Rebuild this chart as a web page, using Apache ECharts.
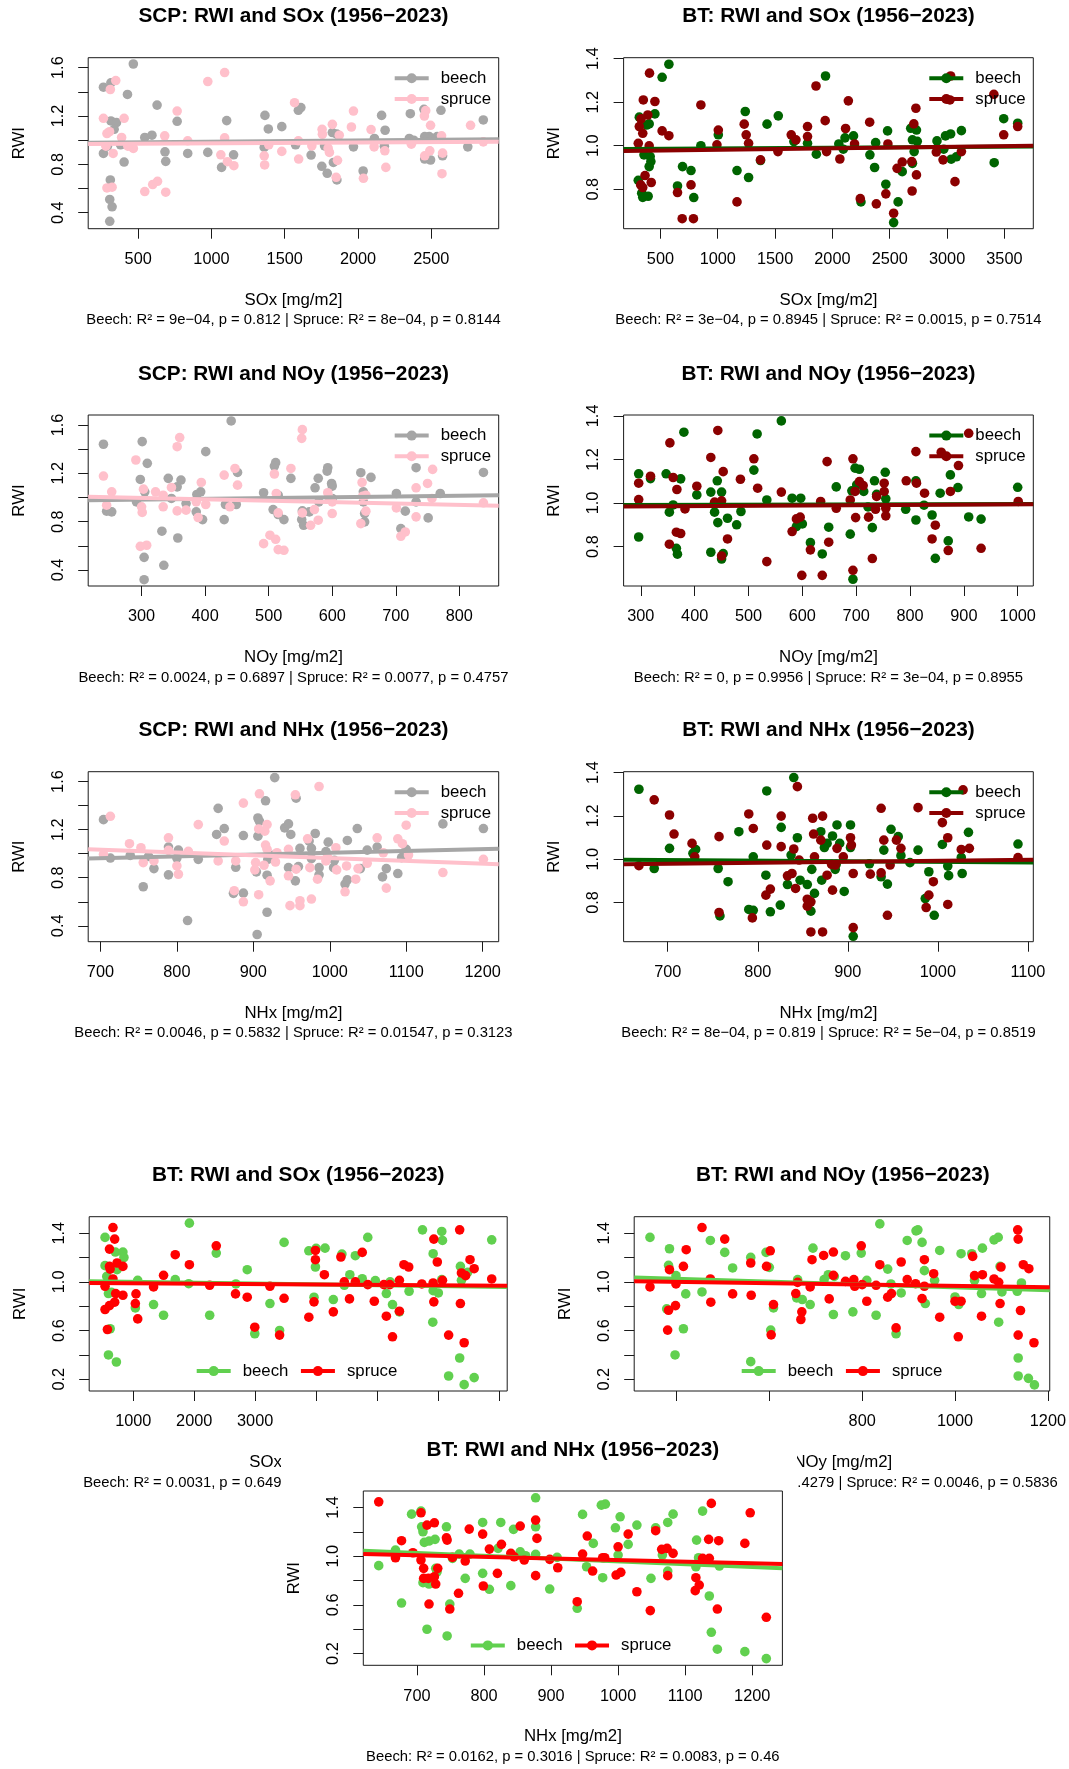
<!DOCTYPE html>
<html>
<head>
<meta charset="utf-8">
<script src="https://cdn.jsdelivr.net/npm/echarts@6/dist/echarts.min.js"></script>
<style>
  html, body { margin: 0; padding: 0; background: #fff; }
  #main { position: absolute; left: 0; top: 0; width: 1069px; height: 1769px; }
  #inset { position: absolute; left: 281px; top: 1408px; width: 516px; height: 361px; background: #fff; }
</style>
</head>
<body>
<div id="main"></div>
<div id="inset"></div>
<script>
// ---------- RWI vs deposition, [deposition, RWI] pairs ----------
const scpSoxBeech = [[467,1.63],[263,1.438],[314,1.474],[427,1.378],[629,1.29],[314,1.159],[352,1.145],[766,1.156],[1104,1.162],[1365,1.205],[1388,1.093],[1480,1.112],[1593,1.247],[1825,1.063],[1855,1.05],[2161,1.205],[2185,1.082],[2357,1.219],[2450,1.255],[2566,1.247],[2855,1.167],[2350,1.014],[2486,1.03],[2455,1.03],[2112,1.014],[380,0.962],[404,0.819],[545,1.022],[594,1.041],[683,0.904],[688,0.825],[838,0.89],[975,0.899],[1069,0.775],[1151,0.879],[1360,0.94],[1574,0.962],[1680,0.877],[1753,0.784],[1790,0.726],[1832,0.816],[1856,0.671],[1969,0.945],[2035,0.745],[2749,0.945],[2455,0.844],[2495,0.836],[2577,0.871],[263,0.89],[310,0.671],[306,0.51],[322,0.449],[306,0.329],[336,1.09],[290,0.95],[1772,0.953],[2180,0.95],[1610,1.27],[2380,1.0],[2540,1.03]];
const scpSoxSpruce = [[1090,1.559],[975,1.485],[347,1.493],[310,1.419],[263,1.181],[404,1.181],[766,1.241],[1567,1.31],[1969,1.241],[2462,1.244],[2453,1.2],[2768,1.123],[2495,1.123],[1955,1.109],[2089,1.088],[1755,1.09],[1757,1.049],[1825,1.131],[1872,1.041],[287,1.055],[305,1.07],[681,1.036],[387,1.022],[838,0.995],[1090,1.019],[1593,0.995],[1391,0.962],[467,0.932],[1685,0.953],[2110,0.945],[2183,0.912],[2364,0.967],[2570,1.036],[2855,0.986],[1805,0.899],[280,0.95],[329,0.89],[1064,0.879],[1109,0.822],[1153,0.789],[1360,0.871],[1363,0.795],[1480,0.907],[1595,0.844],[1796,0.934],[1860,0.833],[1851,0.693],[2037,0.685],[2190,0.775],[2455,0.871],[2490,0.912],[2577,0.893],[2573,0.723],[287,0.605],[322,0.611],[545,0.575],[599,0.633],[632,0.66],[688,0.57],[430,0.95]];

const btSoxBeech = [[574,1.374],[515,1.314],[1940,1.32],[316,1.131],[402,1.1],[452,1.146],[1240,1.157],[1528,1.137],[1430,1.099],[1005,1.05],[853,1.0],[1664,1.019],[1783,1.011],[1860,0.961],[2056,1.008],[2110,1.036],[2184,1.045],[2095,0.984],[2327,0.958],[2377,1.014],[2368,0.9],[2481,1.068],[2466,0.823],[2573,0.742],[2534,0.647],[2609,0.881],[2683,1.08],[2733,1.072],[2698,1.027],[2713,0.973],[2698,0.919],[2912,1.022],[2971,0.984],[2986,1.045],[3031,1.054],[3036,0.938],[3081,0.949],[3125,1.069],[3411,0.922],[3494,1.124],[3616,1.103],[307,0.841],[337,0.782],[346,0.763],[393,0.768],[357,0.958],[411,0.95],[402,0.904],[417,0.927],[693,0.904],[649,0.815],[767,0.886],[791,0.762],[1168,0.886],[1269,0.854],[1373,0.932],[2249,0.742],[2740,1.02],[380,1.095]];
const btSoxSpruce = [[405,1.333],[351,1.21],[452,1.203],[390,1.141],[331,1.123],[316,1.088],[346,1.057],[307,1.011],[402,0.999],[515,1.068],[574,1.046],[853,1.187],[1005,1.072],[993,1.004],[1231,1.099],[1248,1.05],[1269,1.011],[1373,0.935],[1525,0.973],[1641,1.05],[1682,1.027],[1783,1.088],[1783,1.042],[1857,1.274],[1937,1.115],[1949,0.973],[2065,0.939],[2139,1.206],[2115,1.079],[2193,1.008],[2325,1.108],[2243,0.757],[2383,0.733],[2466,0.779],[2484,1.008],[2534,0.69],[2564,0.896],[2609,0.925],[2692,0.927],[2695,0.792],[2710,1.1],[2728,1.172],[2733,0.866],[2906,0.971],[2965,0.935],[3025,1.21],[3031,1.32],[3069,0.835],[3125,0.973],[3408,1.236],[3494,1.05],[3616,1.088],[328,0.82],[346,0.808],[366,0.863],[420,0.831],[649,0.785],[690,0.665],[767,0.82],[788,0.665],[1168,0.742]];

const scpNoyBeech = [[441,1.633],[240,1.44],[301,1.462],[309,1.282],[401,1.379],[342,1.158],[298,1.149],[362,1.144],[356,1.088],[451,1.207],[511,1.288],[509,1.26],[535,1.158],[593,1.246],[592,1.218],[578,1.158],[599,1.116],[600,1.094],[645,1.205],[661,1.166],[732,1.246],[838,1.207],[770,1.033],[701,1.033],[649,1.047],[573,1.08],[492,1.039],[515,1.019],[393,1.047],[387,1.025],[305,1.047],[292,0.964],[347,0.992],[370,0.95],[432,0.942],[449,0.942],[600,0.992],[579,0.964],[732,0.964],[649,0.964],[245,0.887],[253,0.881],[386,0.881],[396,0.817],[430,0.817],[507,0.9],[515,0.859],[524,0.817],[553,0.889],[552,0.817],[555,0.77],[564,0.881],[651,0.867],[651,0.798],[715,0.887],[708,0.743],[751,0.831],[332,0.721],[357,0.665],[304,0.505],[335,0.439],[304,0.32]];
const scpNoySpruce = [[553,1.561],[552,1.489],[360,1.495],[356,1.42],[291,1.31],[240,1.177],[430,1.185],[447,1.24],[535,1.24],[509,1.194],[451,1.102],[394,1.124],[347,1.083],[647,1.124],[758,1.232],[750,1.116],[732,1.08],[253,1.047],[303,1.069],[322,1.047],[334,1.019],[512,1.033],[593,1.039],[653,1.019],[757,0.992],[838,0.956],[245,0.936],[300,0.923],[334,0.923],[356,0.889],[370,0.895],[401,0.942],[386,0.964],[301,0.876],[439,0.923],[515,0.873],[553,0.873],[572,0.9],[600,0.964],[600,0.867],[653,0.887],[701,0.914],[389,0.834],[578,0.812],[566,0.77],[645,0.784],[732,0.84],[708,0.679],[715,0.715],[502,0.688],[511,0.654],[492,0.618],[515,0.569],[524,0.563],[298,0.596],[308,0.605],[648,1.01],[595,1.0]];

const btNoyBeech = [[561,1.377],[380,1.325],[516,1.317],[296,1.134],[318,1.112],[347,1.134],[374,1.111],[510,1.151],[442,1.102],[404,1.037],[430,1.05],[450,1.05],[534,1.014],[581,1.022],[597,1.022],[663,1.074],[698,1.16],[706,1.155],[692,1.056],[701,1.083],[714,1.053],[734,1.102],[738,1.04],[754,1.141],[755,1.019],[811,1.102],[826,0.99],[856,1.045],[875,1.129],[889,1.071],[1000,1.072],[360,0.991],[353,0.958],[437,0.958],[486,0.961],[443,0.91],[461,0.93],[478,0.9],[589,0.892],[600,0.904],[649,0.889],[722,0.982],[730,0.887],[689,0.857],[792,0.971],[811,0.922],[841,0.945],[871,0.826],[909,0.936],[932,0.926],[296,0.844],[366,0.792],[368,0.765],[430,0.774],[453,0.768],[450,0.743],[615,0.818],[637,0.766],[847,0.746],[694,0.65]];
const btNoySpruce = [[443,1.333],[354,1.276],[430,1.209],[510,1.203],[646,1.19],[694,1.203],[811,1.236],[858,1.233],[909,1.32],[890,1.172],[453,1.144],[485,1.109],[360,1.117],[318,1.123],[296,1.091],[367,1.062],[404,1.077],[517,1.068],[561,1.05],[793,1.102],[812,1.091],[752,1.091],[706,1.098],[713,1.08],[698,1.053],[875,1.053],[827,1.045],[738,1.03],[752,1.053],[296,1.016],[437,1.004],[450,1.01],[382,0.973],[634,1.007],[663,0.976],[689,1.014],[736,0.971],[755,0.976],[755,0.941],[596,0.935],[589,0.927],[699,0.933],[723,0.935],[1001,1.007],[366,0.866],[374,0.86],[461,0.835],[581,0.869],[649,0.82],[353,0.811],[615,0.785],[450,0.757],[534,0.731],[730,0.745],[599,0.668],[637,0.668],[694,0.691],[841,0.835],[847,0.898],[871,0.782],[932,0.792]];

const scpNhxBeech = [[928,1.633],[704,1.283],[713,0.964],[739,0.986],[756,0.725],[770,0.876],[763,0.978],[789,1.055],[789,0.824],[802,1.03],[800,0.964],[814,0.444],[828,0.953],[854,1.377],[852,1.16],[862,1.209],[877,0.887],[874,0.67],[887,1.151],[887,0.672],[906,1.297],[908,1.27],[906,1.146],[904,0.849],[905,0.328],[916,1.44],[918,0.513],[918,0.821],[919,0.953],[926,0.986],[941,1.215],[946,1.248],[949,1.16],[946,0.884],[955,0.774],[956,1.462],[961,1.044],[959,0.893],[973,1.105],[976,1.044],[981,1.168],[976,0.959],[986,0.824],[986,0.884],[998,1.096],[995,1.017],[1005,0.884],[1006,0.945],[1020,0.747],[1023,1.11],[1023,0.783],[1036,1.209],[1040,0.876],[1049,1.03],[1062,1.055],[1069,0.807],[1074,0.876],[1089,0.835],[1094,0.967],[1100,1.036],[1148,1.248],[1201,1.209]];
const scpNhxSpruce = [[986,1.559],[908,1.498],[955,1.49],[887,1.421],[713,1.311],[828,1.242],[907,1.206],[918,1.242],[915,1.187],[862,1.105],[738,1.083],[789,1.132],[971,1.124],[1062,1.132],[1089,1.124],[1100,1.237],[1095,1.083],[753,1.05],[789,1.028],[815,1.019],[916,1.072],[918,1.036],[946,1.036],[931,1.008],[1008,1.05],[1070,1.008],[1103,0.989],[704,0.994],[756,0.926],[770,0.94],[800,0.898],[802,0.829],[854,0.94],[877,0.94],[903,0.926],[902,0.865],[914,0.904],[929,0.931],[956,0.871],[946,0.816],[974,0.884],[995,0.94],[997,0.972],[1009,0.865],[1022,0.898],[1037,0.876],[1049,0.92],[1034,0.788],[984,0.788],[922,0.774],[1020,0.683],[1074,0.714],[1148,0.843],[1201,0.953],[875,0.692],[887,0.6],[907,0.659],[948,0.568],[961,0.568],[961,0.609],[976,0.623]];

const btNhxBeech = [[840,1.377],[668,1.323],[810,1.315],[779,1.127],[826,1.147],[844,1.099],[870,1.127],[883,1.107],[888,1.158],[903,1.158],[877,1.073],[891,1.073],[702,1.05],[731,1.045],[728,1.027],[948,1.138],[956,1.104],[940,1.042],[978,1.042],[959,1.016],[1005,1.068],[1034,1.124],[1089,1.07],[795,1.011],[837,1.019],[874,1.054],[903,1.054],[924,0.979],[969,0.984],[1026,1.008],[1011,0.968],[1027,0.934],[1012,0.924],[990,0.942],[944,0.885],[937,0.919],[886,0.953],[887,0.976],[860,0.953],[847,0.903],[833,0.883],[855,0.883],[809,0.926],[767,0.896],[756,0.957],[685,0.957],[896,0.851],[871,0.903],[863,0.842],[825,0.788],[814,0.757],[790,0.768],[795,0.764],[758,0.738],[859,0.76],[986,0.818],[996,0.741],[906,0.644]];
const btNhxSpruce = [[844,1.335],[685,1.274],[702,1.204],[790,1.209],[826,1.199],[872,1.199],[861,1.189],[937,1.235],[978,1.238],[1028,1.32],[1005,1.169],[707,1.116],[757,1.104],[795,1.142],[862,1.116],[870,1.088],[903,1.099],[904,1.065],[940,1.088],[954,1.088],[959,1.05],[1011,1.099],[1026,1.045],[1035,1.05],[1089,1.007],[727,1.073],[730,1.011],[810,1.065],[826,1.058],[840,1.047],[846,0.996],[863,1.011],[888,1.05],[895,1.011],[886,0.973],[882,0.976],[668,0.97],[947,0.973],[906,0.934],[925,0.931],[937,0.937],[877,0.926],[833,0.923],[838,0.934],[995,0.896],[883,0.857],[842,0.865],[814,0.862],[809,0.834],[990,0.834],[987,0.777],[1011,0.791],[855,0.815],[859,0.803],[855,0.783],[757,0.754],[794,0.729],[944,0.741],[859,0.664],[872,0.664],[906,0.684]];

const bt2SoxBeech = [[1921,1.482],[537,1.365],[537,1.133],[565,1.045],[706,1.245],[830,1.245],[847,1.2],[734,1.1],[593,0.904],[640,0.915],[621,0.615],[593,0.4],[723,0.342],[1073,1.013],[1034,0.786],[1333,0.814],[1497,0.726],[1689,1.018],[1910,0.985],[2362,1.236],[2254,0.726],[2684,0.983],[2870,1.1],[3243,0.822],[2994,0.574],[3401,0.601],[3475,1.324],[3881,1.255],[4000,1.275],[3989,1.122],[3966,0.874],[4147,1.277],[4283,0.855],[4424,1.228],[4463,0.972],[4554,1.059],[4644,1.215],[4757,1.026],[4848,1.365],[4972,1.01],[5153,0.904],[5215,1.0],[5254,0.814],[5367,0.754],[5526,0.923],[5746,1.427],[5921,1.231],[5921,0.928],[6006,0.909],[5915,0.669],[6062,1.414],[6074,1.34],[6062,1.018],[6368,1.127],[6385,1.013],[6487,1.078],[6356,0.375],[6175,0.227],[6430,0.156],[6594,0.214],[6882,1.345]];
const bt2SoxSpruce = [[667,1.446],[695,1.351],[610,1.269],[610,1.127],[667,1.024],[734,1.155],[830,1.127],[621,1.105],[537,0.964],[537,0.773],[610,0.805],[695,0.833],[712,0.904],[830,0.89],[576,0.609],[1045,0.901],[1034,0.822],[1073,0.696],[1333,0.958],[1497,1.054],[1689,1.223],[1921,1.141],[2254,0.972],[2362,1.296],[2678,0.901],[2870,0.874],[2994,0.628],[3243,0.964],[3401,0.563],[3475,0.865],[3881,0.71],[3989,1.258],[3989,1.182],[3966,0.836],[4136,1.059],[4283,0.754],[4407,1.204],[4463,1.0],[4548,0.86],[4644,1.0],[4757,1.242],[4848,0.977],[4955,0.841],[5113,0.977],[5153,0.718],[5209,0.977],[5254,0.549],[5367,1.013],[5367,0.759],[5441,1.141],[5520,1.122],[5735,0.983],[5932,1.351],[5921,0.991],[5932,0.836],[5989,1.163],[6074,1.013],[6175,0.563],[6356,1.427],[6385,1.073],[6368,0.822],[6430,0.5],[6453,1.051],[6526,1.182],[6594,1.108],[6882,1.024]];

const bt2NoyBeech = [[343,1.365],[385,1.272],[383,1.135],[399,1.051],[379,0.778],[415,0.615],[397,0.4],[420,0.901],[455,0.917],[473,1.34],[504,1.242],[521,1.114],[560,1.201],[593,1.242],[600,1.119],[609,0.786],[603,0.604],[560,0.345],[661,1.018],[659,0.868],[671,0.855],[688,0.814],[694,1.277],[718,1.018],[727,1.059],[738,0.732],[740,1.045],[764,1.215],[780,0.754],[798,1.236],[810,1.013],[830,0.726],[838,1.476],[855,1.105],[862,0.983],[873,0.574],[884,0.909],[897,1.34],[916,1.419],[920,1.427],[929,1.324],[934,1.092],[936,0.822],[956,1.013],[967,1.258],[1000,0.876],[1008,0.814],[1013,1.231],[1036,1.231],[1042,1.013],[1059,1.277],[1057,0.904],[1084,1.345],[1093,1.365],[1094,0.669],[1097,1.127],[1101,0.917],[1134,0.923],[1143,0.991],[1136,0.375],[1136,0.227],[1158,0.208],[1171,0.154]];
const bt2NoySpruce = [[343,0.958],[383,0.767],[398,0.805],[385,1.1],[381,0.604],[399,0.983],[415,1.127],[421,1.264],[455,1.446],[473,1.024],[474,0.833],[504,1.351],[521,0.901],[560,1.155],[561,0.89],[594,1.127],[602,1.255],[604,0.565],[609,0.814],[657,0.904],[661,0.996],[670,0.754],[668,0.691],[688,0.958],[692,1.182],[717,1.217],[729,0.86],[738,1.245],[738,1.054],[764,1.004],[782,1.018],[784,0.964],[798,1.296],[800,0.977],[810,0.841],[830,0.972],[838,1.141],[855,0.874],[863,0.904],[873,0.622],[884,1.163],[897,1.018],[915,0.985],[934,1.182],[929,0.863],[934,0.964],[954,1.067],[967,0.71],[1000,0.841],[1007,0.549],[1013,0.841],[1038,1.209],[1042,1.051],[1059,1.059],[1057,0.718],[1084,1.024],[1094,0.996],[1097,0.822],[1099,1.122],[1135,1.427],[1136,1.351],[1136,0.563],[1141,0.765],[1147,1.141],[1159,1.108],[1170,0.5]];

const bt2NhxBeech = [[643,0.922],[668,1.05],[677,0.615],[692,1.345],[706,1.37],[707,1.241],[709,1.2],[711,1.113],[718,1.124],[727,1.138],[728,0.9],[709,0.782],[718,0.771],[730,0.872],[715,0.4],[744,1.241],[749,0.607],[745,0.345],[753,0.982],[763,1.017],[772,0.818],[779,1.017],[798,1.277],[798,0.859],[808,0.728],[825,1.277],[821,1.064],[840,0.758],[844,1.22],[854,1.036],[862,1.004],[877,1.479],[877,1.241],[877,1.015],[898,0.73],[909,0.99],[947,1.343],[953,0.913],[939,0.572],[963,1.105],[975,1.419],[981,1.427],[977,0.823],[996,1.233],[1000,1.009],[1003,1.323],[1015,1.097],[1028,1.255],[1049,0.818],[1056,1.233],[1066,1.009],[1074,0.878],[1074,1.277],[1082,1.345],[1117,1.132],[1116,0.913],[1120,0.987],[1126,1.37],[1136,0.673],[1139,0.375],[1148,0.236],[1151,0.919],[1189,0.216],[1221,0.159]];
const bt2NhxSpruce = [[643,1.446],[668,0.987],[677,1.127],[694,1.028],[706,1.356],[706,0.968],[710,0.9],[710,0.818],[715,1.255],[717,0.818],[718,0.607],[726,1.274],[726,0.831],[728,0.771],[731,0.9],[744,1.151],[745,1.132],[749,0.566],[753,0.99],[762,0.695],[772,0.96],[778,1.222],[798,1.181],[799,0.755],[808,1.058],[820,0.859],[826,1.097],[840,1.023],[845,0.995],[854,1.247],[860,0.968],[877,1.296],[877,0.84],[879,1.146],[898,0.974],[910,0.905],[939,0.626],[947,1.017],[954,1.165],[962,0.878],[977,0.987],[980,0.987],[1000,1.077],[997,0.845],[1004,0.867],[1015,1.181],[1028,0.708],[1048,0.553],[1056,1.209],[1065,1.056],[1073,1.064],[1074,0.84],[1082,1.023],[1116,0.823],[1115,0.717],[1121,0.763],[1126,0.982],[1135,1.138],[1136,0.982],[1139,1.433],[1148,0.566],[1150,1.127],[1189,1.105],[1197,1.356],[1221,0.498]];

// ---------- fitted lines: RWI at the left and right plot edges [beech, spruce] ----------
const scpSoxFit = [[0.978, 1.008], [0.968, 0.988]];
const btSoxFit  = [[0.985, 0.996], [0.976, 1.000]];
const scpNoyFit = [[0.978, 1.019], [1.005, 0.931]];
const btNoyFit  = [[0.991, 0.996], [0.984, 0.994]];
const scpNhxFit = [[0.961, 1.041], [1.036, 0.912]];
const btNhxFit  = [[0.997, 0.985], [0.977, 0.997]];
const bt2SoxFit = [[1.005, 0.958], [0.991, 0.969]];
const bt2NoyFit = [[1.035, 0.931], [1.005, 0.955]];
const bt2NhxFit = [[1.045, 0.900], [1.017, 0.935]];

// ---------- axis ranges and ticks ----------
const scpSoxRange = [159, 2960];  const scpSoxTicks = [500, 1000, 1500, 2000, 2500];
const btSoxRange  = [179, 3752];  const btSoxTicks  = [500, 1000, 1500, 2000, 2500, 3000, 3500];
const scpNoyRange = [216, 862];   const scpNoyTicks = [300, 400, 500, 600, 700, 800];
const btNoyRange  = [268, 1029];  const btNoyTicks  = [300, 400, 500, 600, 700, 800, 900, 1000];
const scpNhxRange = [684, 1221];  const scpNhxTicks = [700, 800, 900, 1000, 1100, 1200];
const btNhxRange  = [651, 1106];  const btNhxTicks  = [700, 800, 900, 1000, 1100];
const bt2SoxRange = [277, 7136];  const bt2SoxTicks = [1000, 2000, 3000, 4000, 5000, 6000, 7000];
const bt2NoyRange = [309, 1204];  const bt2NoyTicks = [400, 600, 800, 1000, 1200];
const bt2NhxRange = [620, 1245];  const bt2NhxTicks = [700, 800, 900, 1000, 1100, 1200];

const scpRwiRange = [0.268, 1.682]; const scpRwiTicks = [0.4, 0.6, 0.8, 1.0, 1.2, 1.4, 1.6]; const scpRwiLabels = [0.4, 0.8, 1.2, 1.6];
const btRwiRange  = [0.619, 1.404]; const btRwiTicks  = [0.8, 1.0, 1.2, 1.4];                const btRwiLabels  = [0.8, 1.0, 1.2, 1.4];
const bt2RwiRange = [0.104, 1.535]; const bt2RwiTicks = [0.2, 0.4, 0.6, 0.8, 1.0, 1.2, 1.4]; const bt2RwiLabels = [0.2, 0.6, 1.0, 1.4];

const scpColors = ['#A6A6A6', '#FFC0CB'];
const btColors  = ['#006400', '#8B0000'];
const bt2Colors = ['#61D04F', '#FF0000'];

const statLines = [
  'Beech: R² = 9e−04, p = 0.812 | Spruce: R² = 8e−04, p = 0.8144',
  'Beech: R² = 3e−04, p = 0.8945 | Spruce: R² = 0.0015, p = 0.7514',
  'Beech: R² = 0.0024, p = 0.6897 | Spruce: R² = 0.0077, p = 0.4757',
  'Beech: R² = 0, p = 0.9956 | Spruce: R² = 3e−04, p = 0.8955',
  'Beech: R² = 0.0046, p = 0.5832 | Spruce: R² = 0.01547, p = 0.3123',
  'Beech: R² = 8e−04, p = 0.819 | Spruce: R² = 5e−04, p = 0.8519',
  'Beech: R² = 0.0031, p = 0.6494 | Spruce: R² = 0.0017, p = 0.7386',
  'Beech: R² = 0.0095, p = 0.4279 | Spruce: R² = 0.0046, p = 0.5836',
  'Beech: R² = 0.0162, p = 0.3016 | Spruce: R² = 0.0083, p = 0.46'
];

// ---------- panel layout (page pixels: left, top, width, height of the plot box) ----------
const FONT = '"Liberation Sans", Arial, Helvetica, sans-serif';
const SCP = { yr: scpRwiRange, yt: scpRwiTicks, yl: scpRwiLabels, col: scpColors, leg: 'top' };
const BT  = { yr: btRwiRange,  yt: btRwiTicks,  yl: btRwiLabels,  col: btColors,  leg: 'top' };
const BT2 = { yr: bt2RwiRange, yt: bt2RwiTicks, yl: bt2RwiLabels, col: bt2Colors, leg: 'bottom' };

const mainPanels = [
  Object.assign({ title: 'SCP: RWI and SOx (1956−2023)', xName: 'SOx [mg/m2]', stat: statLines[0], box: [88.2, 57.7, 410.5, 171], xr: scpSoxRange, xt: scpSoxTicks, pts: [scpSoxBeech, scpSoxSpruce], fit: scpSoxFit }, SCP),
  Object.assign({ title: 'BT: RWI and SOx (1956−2023)',  xName: 'SOx [mg/m2]', stat: statLines[1], box: [623.6, 57.7, 409.7, 171], xr: btSoxRange,  xt: btSoxTicks,  pts: [btSoxBeech, btSoxSpruce],   fit: btSoxFit }, BT),
  Object.assign({ title: 'SCP: RWI and NOy (1956−2023)', xName: 'NOy [mg/m2]', stat: statLines[2], box: [88.2, 415, 410.5, 171],   xr: scpNoyRange, xt: scpNoyTicks, pts: [scpNoyBeech, scpNoySpruce], fit: scpNoyFit }, SCP),
  Object.assign({ title: 'BT: RWI and NOy (1956−2023)',  xName: 'NOy [mg/m2]', stat: statLines[3], box: [623.6, 415, 409.7, 171],  xr: btNoyRange,  xt: btNoyTicks,  pts: [btNoyBeech, btNoySpruce],   fit: btNoyFit }, BT),
  Object.assign({ title: 'SCP: RWI and NHx (1956−2023)', xName: 'NHx [mg/m2]', stat: statLines[4], box: [88.2, 771.7, 410.5, 170], xr: scpNhxRange, xt: scpNhxTicks, pts: [scpNhxBeech, scpNhxSpruce], fit: scpNhxFit }, SCP),
  Object.assign({ title: 'BT: RWI and NHx (1956−2023)',  xName: 'NHx [mg/m2]', stat: statLines[5], box: [623.6, 771.7, 409.7, 170], xr: btNhxRange, xt: btNhxTicks,  pts: [btNhxBeech, btNhxSpruce],   fit: btNhxFit }, BT),
  Object.assign({ title: 'BT: RWI and SOx (1956−2023)',  xName: 'SOx [mg/m2]', stat: statLines[6], box: [89.2, 1216.7, 418, 174.3], xr: bt2SoxRange, xt: bt2SoxTicks, pts: [bt2SoxBeech, bt2SoxSpruce], fit: bt2SoxFit }, BT2),
  Object.assign({ title: 'BT: RWI and NOy (1956−2023)',  xName: 'NOy [mg/m2]', stat: statLines[7], box: [634.2, 1216.7, 417.3, 174.3], xr: bt2NoyRange, xt: bt2NoyTicks, pts: [bt2NoyBeech, bt2NoySpruce], fit: bt2NoyFit }, BT2)
];
const insetPanels = [
  Object.assign({ title: 'BT: RWI and NHx (1956−2023)',  xName: 'NHx [mg/m2]', stat: statLines[8], box: [363.3, 1491, 419.1, 174.3], xr: bt2NhxRange, xt: bt2NhxTicks, pts: [bt2NhxBeech, bt2NhxSpruce], fit: bt2NhxFit }, BT2)
];

function textEl(x, y, text, font, rotation) {
  return {
    type: 'text', x: x, y: y, rotation: rotation || 0, silent: true, z: 10,
    style: { text: text, font: font, fill: '#000',
             align: 'center', verticalAlign: 'middle',
             textAlign: 'center', textVerticalAlign: 'middle' }
  };
}

function buildOption(panels, dx, dy, tag) {
  const grid = [], xAxis = [], yAxis = [], series = [], legend = [], graphic = [];
  panels.forEach(function (p, i) {
    const L = p.box[0] - dx, T = p.box[1] - dy, W = p.box[2], H = p.box[3];
    const cx = L + W / 2, B = T + H, R = L + W;
    grid.push({ left: L, top: T, width: W, height: H, show: true,
                borderColor: '#1a1a1a', borderWidth: 1, backgroundColor: 'rgba(0,0,0,0)' });
    xAxis.push({
      type: 'value', gridIndex: i, min: p.xr[0], max: p.xr[1],
      axisLine: { show: false }, splitLine: { show: false },
      axisTick: { show: true, length: 10, lineStyle: { color: '#1a1a1a', width: 1 }, customValues: p.xt },
      axisLabel: { customValues: p.xt, margin: 23, color: '#000', fontFamily: FONT, fontSize: 16.3,
                   hideOverlap: false, formatter: function (v) { return String(v); } }
    });
    yAxis.push({
      type: 'value', gridIndex: i, min: p.yr[0], max: p.yr[1],
      axisLine: { show: false }, splitLine: { show: false },
      axisTick: { show: true, length: 10, lineStyle: { color: '#1a1a1a', width: 1 }, customValues: p.yt },
      axisLabel: { customValues: p.yl, rotate: 90, margin: 22, color: '#000', fontFamily: FONT, fontSize: 16.3,
                   hideOverlap: false, formatter: function (v) { return v.toFixed(1); } }
    });
    const names = ['beech', 'spruce'];
    // points: beech first, then spruce on top
    [0, 1].forEach(function (k) {
      series.push({
        type: 'scatter', name: names[k] + ' pts@' + tag + i, xAxisIndex: i, yAxisIndex: i,
        data: p.pts[k], symbol: 'circle', symbolSize: 9.6, silent: true,
        itemStyle: { color: p.col[k], opacity: 1 }
      });
    });
    // fitted lines across the plot region
    [0, 1].forEach(function (k) {
      series.push({
        type: 'line', name: names[k] + '@' + tag + i, xAxisIndex: i, yAxisIndex: i,
        data: [[p.xr[0], p.fit[k][0]], [p.xr[1], p.fit[k][1]]],
        symbol: 'circle', showSymbol: false, silent: true, z: 3,
        color: p.col[k], itemStyle: { color: p.col[k] },
        lineStyle: { color: p.col[k], width: 4 }
      });
    });
    const legBase = {
      padding: 0, itemWidth: 34, itemHeight: 12.5, selectedMode: false, z: 20,
      data: [names[0] + '@' + tag + i, names[1] + '@' + tag + i],
      formatter: function (n) { return n.split('@')[0]; },
      textStyle: { fontFamily: FONT, fontSize: 16.8, color: '#000', padding: [0, 0, 0, 7] },
      lineStyle: { width: 4 }
    };
    if (p.leg === 'top') {
      legend.push(Object.assign({ orient: 'vertical', left: R - 106, top: T + 20.5 - 8.4, itemGap: 3.7 }, legBase));
    } else {
      legend.push(Object.assign({ orient: 'horizontal', left: L + 105.5, top: B - 20 - 8.4, itemGap: 10.5 }, legBase));
    }
    graphic.push(textEl(cx, T - 41, p.title, 'bold 20.8px ' + FONT));
    graphic.push(textEl(cx, B + 71.5, p.xName, '16.8px ' + FONT));
    graphic.push(textEl(cx, B + 91.5, p.stat, '14.8px ' + FONT));
    graphic.push(textEl(L - 69, T + H / 2, 'RWI', '16.8px ' + FONT, Math.PI / 2));
  });
  return { animation: false, backgroundColor: '#fff', grid: grid, xAxis: xAxis, yAxis: yAxis,
           series: series, legend: legend, graphic: graphic };
}

const mainChart = echarts.init(document.getElementById('main'), null, { renderer: 'canvas' });
mainChart.setOption(buildOption(mainPanels, 0, 0, 'm'));
const insetChart = echarts.init(document.getElementById('inset'), null, { renderer: 'canvas' });
insetChart.setOption(buildOption(insetPanels, 281, 1408, 'n'));
</script>
</body>
</html>
